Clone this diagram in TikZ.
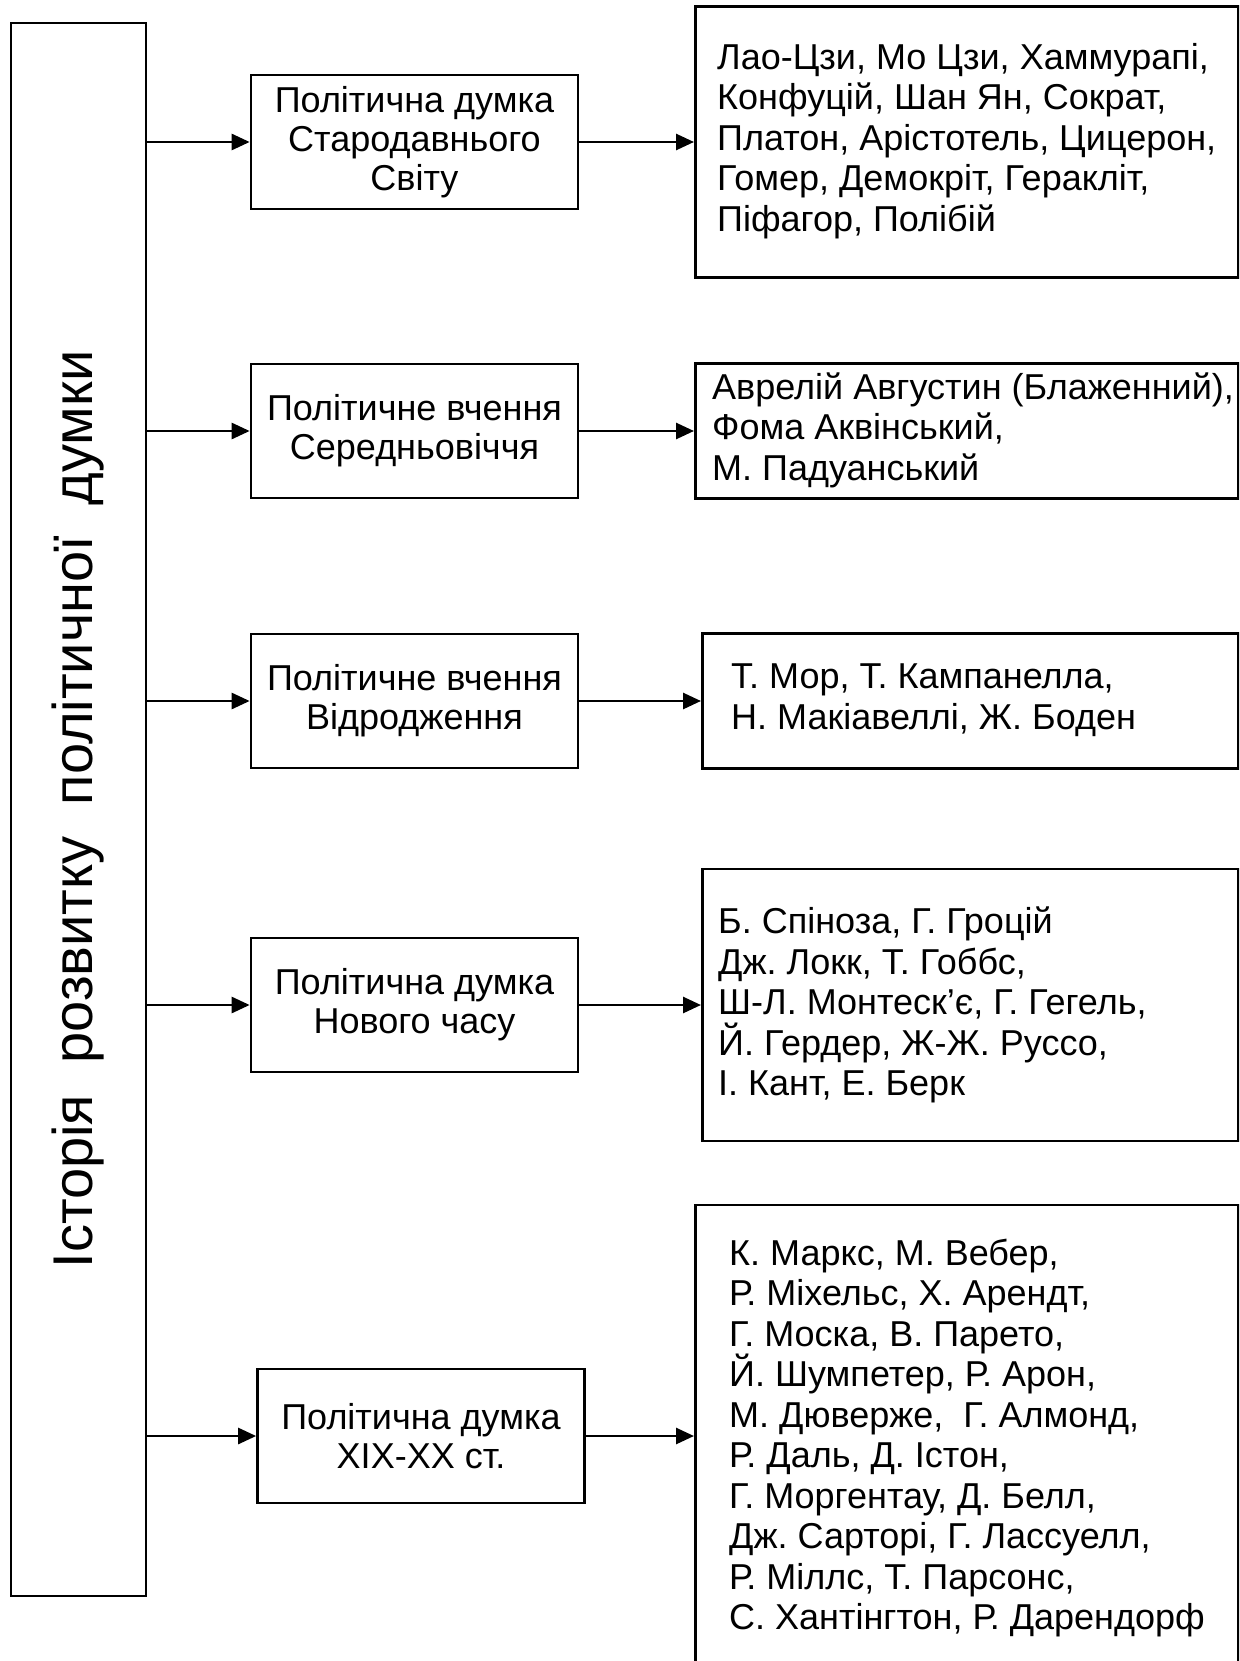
\documentclass[tikz,border=0pt]{standalone}
\usepackage{fontspec}
\setmainfont{Liberation Sans}
\usetikzlibrary{arrows.meta}
\frenchspacing
\begin{document}
\begin{tikzpicture}[x=1pt,y=-1pt,
  frame/.style={draw=black,line width=2.7pt,rectangle,inner sep=0pt},
  mid/.style={frame,minimum width=327pt,minimum height=134pt,align=center,
    font=\fontsize{36}{39}\selectfont},
  lst/.style={align=left,font=\fontsize{36}{40.5}\selectfont,anchor=west,inner sep=0pt},
  conn/.style={line width=2.7pt,-{Triangle[length=18pt,width=16pt]}}]
\useasboundingbox (0,0) rectangle (1239,1661);
\begin{scope}
\clip (0,0) rectangle (1239,1661);
% left title box
\node[frame,minimum width=135pt,minimum height=1573pt] (title) at (78.5,809.5) {};
\node[rotate=90,font=\fontsize{56}{60}\selectfont] (tt) at (title.center)
  {Історія\hspace{0.556em}розвитку\hspace{0.556em}політичної\hspace{0.556em}думки};
% middle boxes
\node[mid] (m1) at (414.5,142) {Політична думка\\Стародавнього\\Світу};
\node[mid] (m2) at (414.5,431) {Політичне вчення\\Середньовіччя};
\node[mid] (m3) at (414.5,701) {Політичне вчення\\Відродження};
\node[mid] (m4) at (414.5,1005) {Політична думка\\Нового часу};
\node[mid] (m5) at (421,1436) {Політична думка\\XIX-XX ст.};
% right boxes
\node[frame,minimum width=543pt,minimum height=271pt,anchor=west] (r1) at (694,142) {};
\node[frame,minimum width=543pt,minimum height=135pt,anchor=west] (r2) at (694,431) {};
\node[frame,minimum width=536pt,minimum height=135pt,anchor=west] (r3) at (701,701) {};
\node[frame,minimum width=536pt,minimum height=272pt,anchor=west] (r4) at (701,1005) {};
\node[frame,minimum width=543pt,minimum height=466pt,anchor=west] (r5) at (694,1438) {};
\node[lst] (t1) at (717,141)
  {Лао-Цзи, Мо Цзи, Хаммурапі,\\Конфуцій, Шан Ян, Сократ,\\Платон, Арістотель, Цицерон,\\Гомер, Демокріт, Геракліт,\\Піфагор, Полібій};
\node[lst] (t2) at (712,430)
  {Аврелій Августин (Блаженний),\\Фома Аквінський,\\М. Падуанський};
\node[lst] (t3) at (731,700)
  {Т. Мор, Т. Кампанелла,\\Н. Макіавеллі, Ж. Боден};
\node[lst] (t4) at (718,1005)
  {Б. Спіноза, Г. Гроцій\\Дж. Локк, Т. Гоббс,\\Ш-Л. Монтеск’є, Г. Гегель,\\Й. Гердер, Ж-Ж. Руссо,\\І. Кант, Е. Берк};
\node[lst] (t5) at (729,1438)
  {К. Маркс, М. Вебер,\\Р. Міхельс, Х. Арендт,\\Г. Моска, В. Парето,\\Й. Шумпетер, Р. Арон,\\М. Дюверже,\ \ Г. Алмонд,\\Р. Даль, Д. Істон,\\Г. Моргентау, Д. Белл,\\Дж. Сарторі, Г. Лассуелл,\\Р. Міллс, Т. Парсонс,\\С. Хантінгтон, Р. Дарендорф};
\end{scope}
% connectors
\foreach \m in {m1,m2,m3,m4,m5}{
  \draw[conn] (title.east |- \m.west) -- (\m.west);
}
\draw[conn] (m1.east) -- (r1.west |- m1.east);
\draw[conn] (m2.east) -- (r2.west |- m2.east);
\draw[conn] (m3.east) -- (r3.west |- m3.east);
\draw[conn] (m4.east) -- (r4.west |- m4.east);
\draw[conn] (m5.east) -- (r5.west |- m5.east);
\end{tikzpicture}
\end{document}
